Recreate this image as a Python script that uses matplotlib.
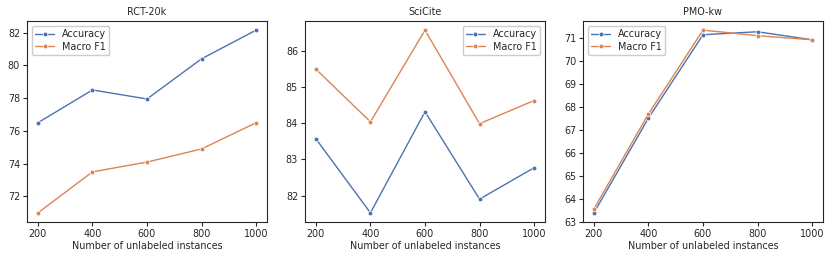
import matplotlib
matplotlib.use("Agg")
import matplotlib.pyplot as plt
import seaborn as sns

sns.set_theme(style="ticks", palette="deep")
plt.rcParams['font.family'] = ['DejaVu Sans']

x_vals = [200, 400, 600, 800, 1000]
titles = ["RCT-20k", "SciCite", "PMO-kw"]
rct_acc = [76.5, 78.5, 77.95, 80.4, 82.15]
rct_f1 = [71.0, 73.5, 74.1, 74.9, 76.5]
sci_acc = [83.57, 81.52, 84.32, 81.9, 82.77]
sci_f1 = [85.5, 84.04, 86.58, 83.99, 84.63]
pmo_acc = [63.38, 67.5, 71.12, 71.25, 70.9]
pmo_f1 = [63.55, 67.68, 71.32, 71.08, 70.9]
series = [(rct_acc, rct_f1), (sci_acc, sci_f1), (pmo_acc, pmo_f1)]
legend_locs = ["upper left", "upper right", "upper left"]

fig = plt.figure(figsize=(8.31, 2.59), dpi=100)
lefts = [27, 305, 583]
width = 240
bottom = 259 - 222
height = 222 - 21
colors = sns.color_palette("deep")
fs = 6.9
for i in range(3):
    ax = fig.add_axes([lefts[i] / 831, bottom / 259, width / 831, height / 259])
    acc, f1 = series[i]
    ax.plot(x_vals, acc, marker='o', markersize=3.4, lw=1.0, color=colors[0],
            markeredgecolor='white', markeredgewidth=0.5, label="Accuracy")
    ax.plot(x_vals, f1, marker='o', markersize=3.4, lw=1.0, color=colors[1],
            markeredgecolor='white', markeredgewidth=0.5, label="Macro F1")
    ax.set_xticks(x_vals)
    ax.set_title(titles[i], fontsize=fs, pad=4)
    ax.set_xlabel("Number of unlabeled instances", fontsize=fs, labelpad=1.5)
    ax.tick_params(labelsize=fs, length=3, width=0.8, pad=2)
    for s in ax.spines.values():
        s.set_linewidth(0.8)
    ax.legend(loc=legend_locs[i], fontsize=fs, handlelength=2.0, borderpad=0.35,
              labelspacing=0.25, handletextpad=0.8, framealpha=1, edgecolor='#cccccc')
    ax.margins(x=0.05)

fig.savefig("out.png", dpi=100)
